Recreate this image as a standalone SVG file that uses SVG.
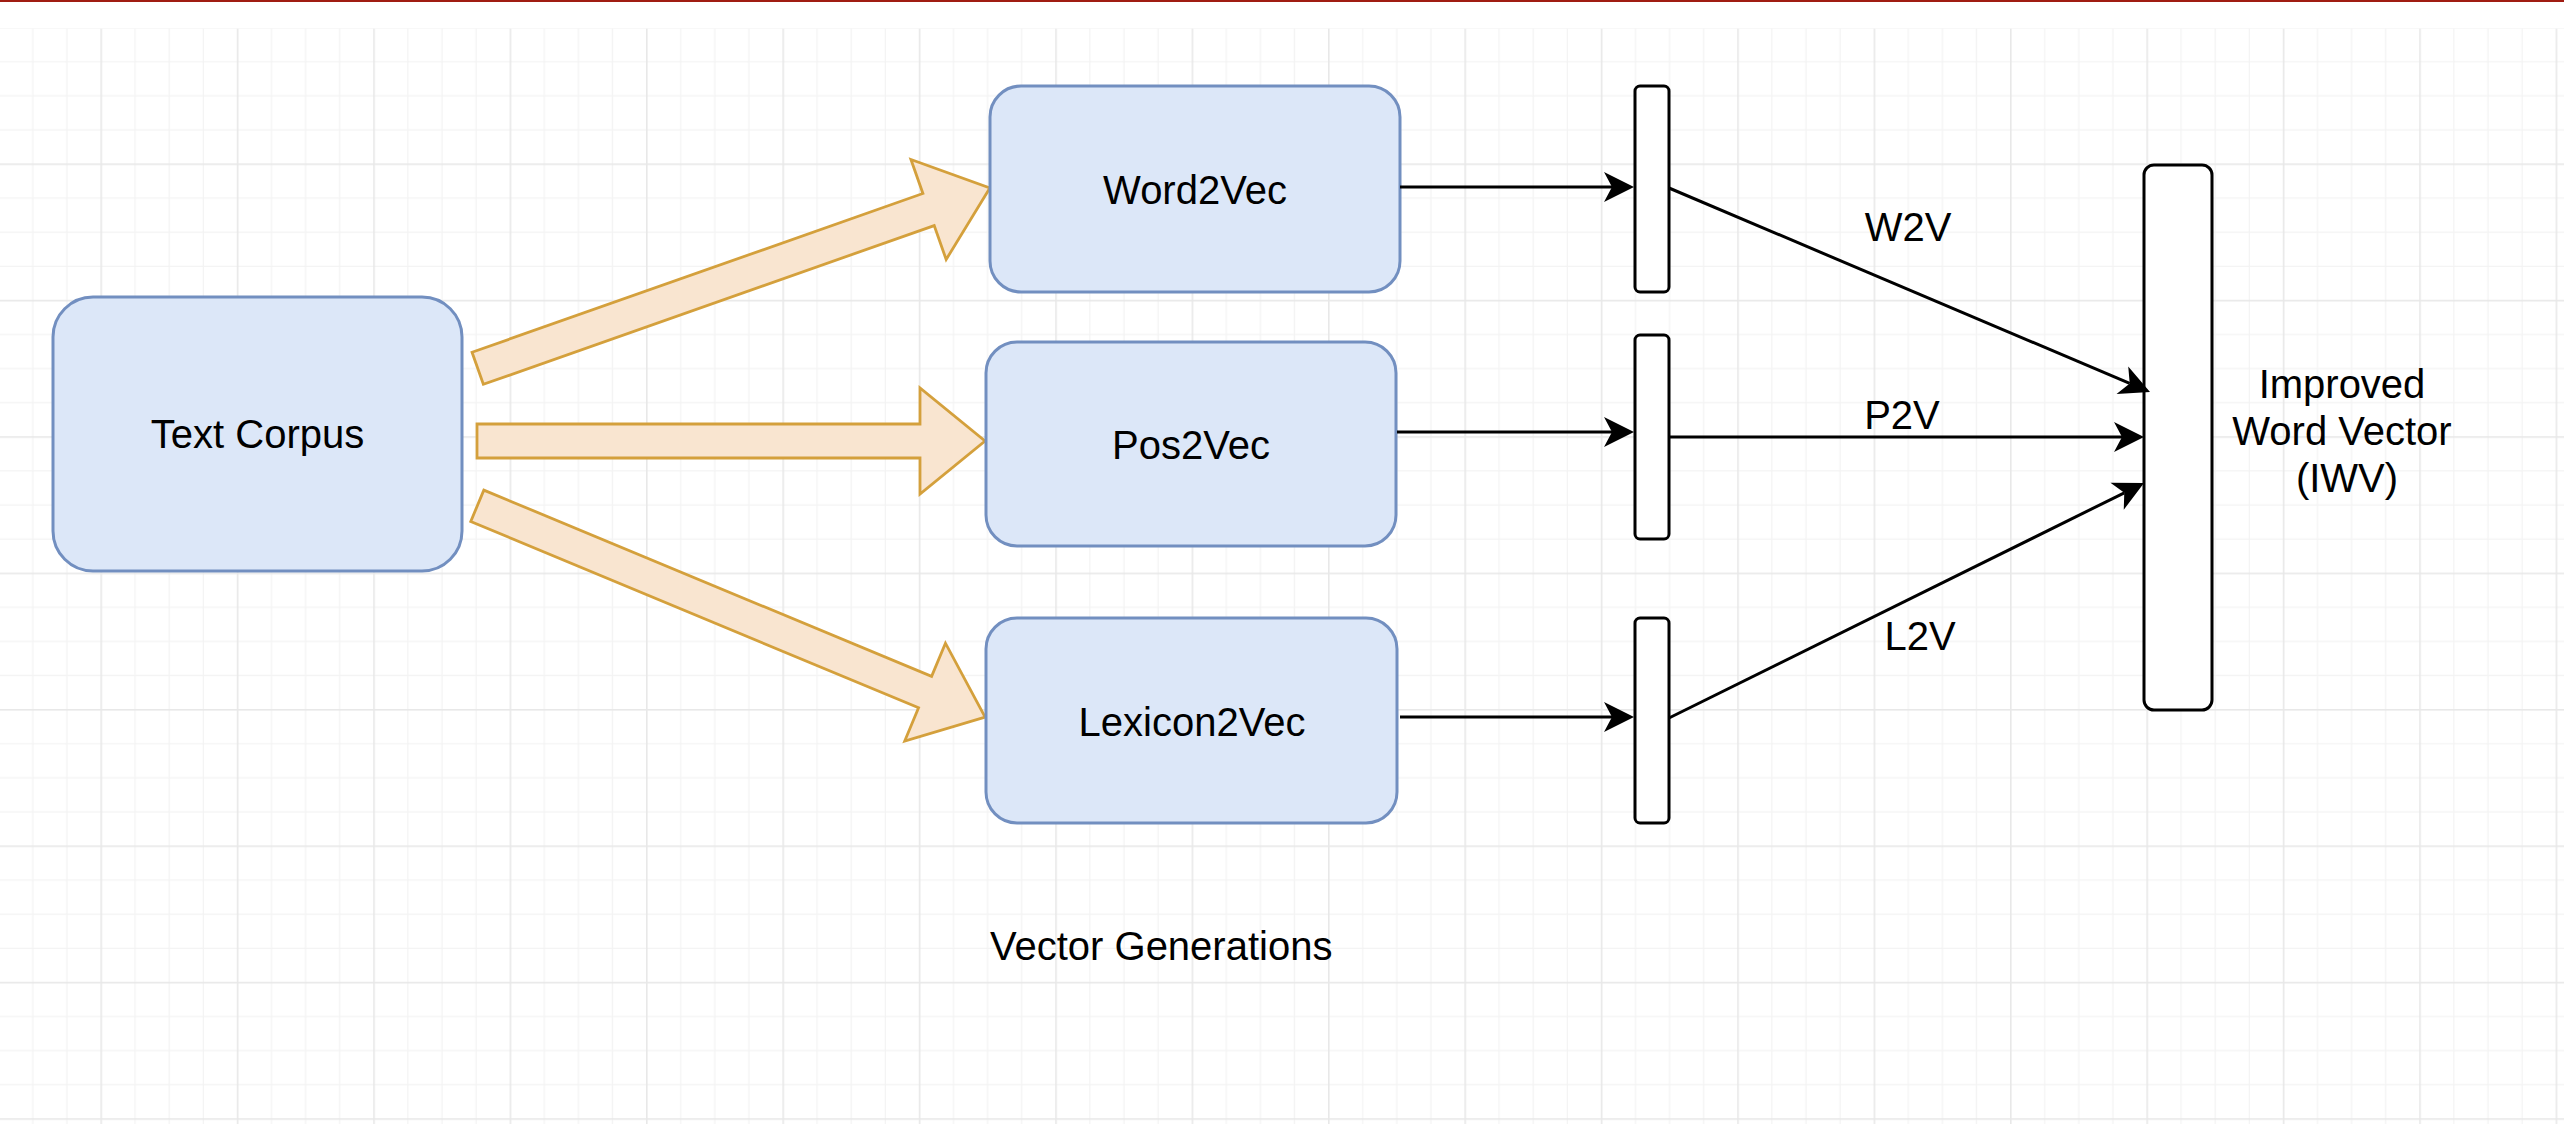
<svg xmlns="http://www.w3.org/2000/svg" width="2564" height="1124" viewBox="0 0 2564 1124">
<style>
.node{fill:#dce7f8;stroke:#728fc0;stroke-width:3}
.bar{fill:#ffffff;stroke:#000000;stroke-width:3}
.big{fill:#f9e5d0;stroke:#d4a03c;stroke-width:2.8;stroke-linejoin:miter}
.edge{fill:none;stroke:#000000;stroke-width:3}
.ah{fill:#000000;stroke:none}
text{font-family:"Liberation Sans",Arial,Helvetica,sans-serif;font-size:40px;fill:#000000}
.c{text-anchor:middle}
</style>
<defs>
<pattern id="grid" patternUnits="userSpaceOnUse" x="100.4" y="163.4" width="136.4" height="136.4">
<rect x="34.1" y="0" width="1.2" height="136.4" fill="#f3f3f3"/>
<rect x="68.2" y="0" width="1.2" height="136.4" fill="#f3f3f3"/>
<rect x="102.3" y="0" width="1.2" height="136.4" fill="#f3f3f3"/>
<rect x="0" y="34.1" width="136.4" height="1.2" fill="#f3f3f3"/>
<rect x="0" y="68.2" width="136.4" height="1.2" fill="#f3f3f3"/>
<rect x="0" y="102.3" width="136.4" height="1.2" fill="#f3f3f3"/>
<rect x="0" y="0" width="1.6" height="136.4" fill="#e8e8e8"/>
<rect x="0" y="0" width="136.4" height="1.6" fill="#e8e8e8"/>
</pattern>
<path id="head" d="M0,0 L-30,-15 L-22,0 L-30,15 Z"/>
</defs>
<rect x="0" y="0" width="2564" height="1124" fill="#ffffff"/>
<rect x="0" y="28.5" width="2564" height="1096" fill="url(#grid)"/>
<rect x="0" y="0" width="2564" height="2" fill="#a01c12"/>

<g id="big-arrows">
<polygon class="big" transform="translate(477.7,368.3) rotate(-19.4)" points="0,-17 478,-17 478,-53 543,0 478,53 478,17 0,17"/>
<polygon class="big" transform="translate(477,441)" points="0,-17 443,-17 443,-53 508,0 443,53 443,17 0,17"/>
<polygon class="big" transform="translate(477.3,505.8) rotate(22.59)" points="0,-17 485,-17 485,-53 550,0 485,53 485,17 0,17"/>
</g>

<g id="text-corpus">
<rect class="node" x="53" y="297" width="409" height="274" rx="40" ry="40"/>
<text class="c" x="257.5" y="448">Text Corpus</text>
</g>
<g id="word2vec">
<rect class="node" x="990" y="86" width="410" height="206" rx="31" ry="31"/>
<text class="c" x="1195" y="204">Word2Vec</text>
</g>
<g id="pos2vec">
<rect class="node" x="986" y="342" width="410" height="204" rx="31" ry="31"/>
<text class="c" x="1191" y="459">Pos2Vec</text>
</g>
<g id="lexicon2vec">
<rect class="node" x="986" y="618" width="411" height="205" rx="31" ry="31"/>
<text class="c" x="1192" y="736">Lexicon2Vec</text>
</g>

<g id="vec-w2v"><rect class="bar" x="1635" y="86" width="34" height="206" rx="5" ry="5"/></g>
<g id="vec-p2v"><rect class="bar" x="1635" y="335" width="34" height="204" rx="5" ry="5"/></g>
<g id="vec-l2v"><rect class="bar" x="1635" y="618" width="34" height="205" rx="5" ry="5"/></g>

<g id="iwv">
<rect class="bar" x="2144" y="165" width="68" height="545" rx="10" ry="10"/>
<text class="c" x="2342" y="398">Improved</text>
<text class="c" x="2342" y="445">Word Vector</text>
<text class="c" x="2347" y="492">(IWV)</text>
</g>

<g id="connectors">
<line class="edge" x1="1400" y1="187" x2="1612" y2="187"/>
<use href="#head" class="ah" transform="translate(1634,187)"/>
<line class="edge" x1="1397" y1="432" x2="1612" y2="432"/>
<use href="#head" class="ah" transform="translate(1634,432)"/>
<line class="edge" x1="1400" y1="717" x2="1612" y2="717"/>
<use href="#head" class="ah" transform="translate(1634,717)"/>
<line class="edge" x1="1669" y1="188" x2="2129.7" y2="383.4"/>
<use href="#head" class="ah" transform="translate(2150,392) rotate(22.98)"/>
<line class="edge" x1="1669" y1="437" x2="2122" y2="437"/>
<use href="#head" class="ah" transform="translate(2144,437)"/>
<line class="edge" x1="1669" y1="718" x2="2124.3" y2="492.8"/>
<use href="#head" class="ah" transform="translate(2144,483) rotate(-26.32)"/>
<text class="c" x="1908" y="241">W2V</text>
<text class="c" x="1902" y="429">P2V</text>
<text class="c" x="1920" y="650">L2V</text>
</g>

<text id="vector-generations" x="990" y="960">Vector Generations</text>
</svg>
